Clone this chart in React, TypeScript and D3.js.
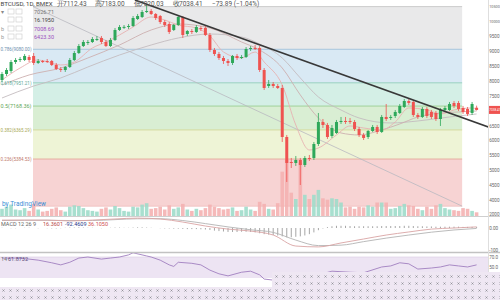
import React from 'react';
import * as d3 from 'd3';

// ---------- DATA ----------
const open = [8046,8248,8350,8652,8720,8720,8821,8855,8619,8686, 8686,8686,8552,8417,8383,8484,8720,8955,9191,9292, 9326,9393,9461,9326,9191,9393,9730,9831,9831,9865, 10100,10168,10336,10370,10269,10201,9999,9932,9730,9898, 10168,9595,9696,9663,9797,9797,9562,9057,8922,8787, 8686,8619,8855,8787,8821,9090,9124,9124,8383,7844, 7912,7844,7777,6127,5285,5252,5353,5184,5420,5420, 5891,6632,6531,6161,6262,6632,6666,6666,6632,6397, 6195,6127,6329,6464,6296,6801,6767,6834,6935,7137, 7339,7306,6868,6801,7070,6969,6935,6733,7036,7036, 7272,7272,7104,7070,6935,7112.43];
const close = [8248,8383,8652,8720,8753,8855,8720,8619,8686,8652, 8680,8552,8417,8383,8484,8720,8955,9191,9326,9326, 9427,9427,9326,9191,9393,9730,9831,9835,9865,10134, 10201,10336,10370,10269,10134,9999,9898,9663,9898,10168, 9562,9696,9663,9831,9764,9562,9057,8922,8787,8686, 8619,8855,8787,8821,9090,9124,9120,8383,7777,7912, 7844,7777,6127,5252,5270,5353,5184,5420,5386,5891, 6632,6531,6127,6430,6632,6666,6660,6632,6397,6195, 6094,6329,6464,6296,6801,6733,6801,6969,7171,7339, 7272,6868,6801,7070,6834,6801,6733,7036,7104,7238, 7171,7070,6969,6902,7238,7038.41];
const high = [8316,8450,8720,8787,8821,8922,8888,8955,8753,8720, 8753,8720,8619,8484,8518,8787,9023,9258,9393,9393, 9494,9528,9528,9393,9461,9797,9898,9898,9932,10201, 10269,10403,10572,10437,10302,10235,10067,9999,9932,10235, 10201,9730,9764,9898,9865,9865,9629,9124,8989,8855, 8753,8888,8922,8888,9157,9191,9225,9191,8450,8046, 7979,7912,7878,6195,5420,5487,5420,5487,5521,5959, 6935,6733,6599,6531,6700,6801,6801,6767,6700,6464, 6262,6363,6531,6531,6868,7238,6868,7036,7238,7407, 7407,7373,6935,7137,7137,7036,7003,7104,7171,7306, 7339,7339,7171,7137,7306,7183];
const low = [7979,8181,8282,8585,8652,8686,8652,8552,8585,8619, 8619,8518,8383,8316,8316,8450,8686,8922,9157,9225, 9292,9360,9258,9157,9157,9360,9696,9764,9764,9831, 10067,10134,10302,10235,10067,9932,9831,9595,9696,9865, 9461,9528,9595,9629,9696,9528,8989,8855,8720,8585, 8518,8552,8720,8753,8787,9023,9057,8316,7710,7777, 7777,7743,5959,4612,5083,5151,4510,5117,5319,5353, 5824,6430,6060,6094,6228,6565,6565,6565,6329,6127, 6026,6060,6296,6228,6262,6666,6700,6767,6902,7104, 7205,6801,6733,6767,6767,6733,6666,6498,6969,7003, 7104,7003,6902,6834,6868,7020.03];
const volume = [2600,2900,3200,2500,2400,2700,2300,3300,2500,2200, 2300,2600,2800,2400,2200,2900,3100,3000,2700,2400, 2300,2200,2600,2800,2500,3000,2700,2300,2200,2900, 2800,3200,3400,2600,2700,2900,2500,3100,2600,2800, 3300,2500,2300,2600,2400,2700,3200,2900,2700,2500, 2600,2800,2300,2400,2900,2500,2300,3600,3300,2600, 2500,3400,7900,9600,4900,4000,9200,4600,4000,4600, 5300,4100,3900,4100,4000,3500,2800,2900,2600,2900, 2800,3100,2900,3500,3500,3500,2600,2700,3000,3300, 3100,3000,2600,2400,2900,2600,3100,3300,2700,2500, 2400,2300,2700,2600,2300,2100];

// moving averages (sampled: candle index, price)
const maShortIdx = [0,4,8,13,16,20,23,26,29,33,36,39,43,46,49,53,56,58,62,65,68,70,74,77,80,84,87,90,94,97,100,104,105];
const maShortVal = [8046,8450,8720,8552,8652,9124,9326,9562,9831,10168,10067,9898,9797,9528,8989,8787,8989,8652,7878,6531,5690,5757,6195,6498,6430,6363,6632,7104,7036,6902,7036,7104,7070];
const maMidIdx = [0,6,13,19,26,33,39,46,53,57,62,66,70,75,79,84,88,92,97,101,105];
const maMidVal = [7878,8215,8450,8787,9225,9730,9932,9797,9326,9057,8450,7541,6767,6262,6195,6363,6565,6801,6935,6969,7003];
const maLongIdx = [0,7,13,19,26,33,39,46,53,57,62,66,70,75,79,86,92,99,105];
const maLongVal = [7440,7844,8114,8484,8888,9225,9461,9595,9494,9258,8787,8114,7474,7036,6767,6599,6666,6801,6902];

// Fibonacci retracement
const fibRatios = [1, 0.786, 0.618, 0.5, 0.382, 0.236, 0];
const fibPrices = [10518, 9080.00, 7951.21, 7168.36, 6365.29, 5384.53, 3798];
const fibStartIdx = 6.86;
const fibEndIdx = 101.8;

// trend line (candle index, price)
const trendA = { i: 29.4, p: 10740 };
const trendB = { i: 107.6, p: 6464 };

// axis ticks
const priceTicks = [10500,10000,9500,9000,8500,8000,7500,7000,6500,6000,5500,5000,4500];
const volTicks = [4000, 2000];

// MACD (sampled every 5 candles)
const macdIdx = [0,5,10,15,20,25,30,35,40,45,50,55,60,65,70,75,80,85,90,95,100,105];
const macdVal = [36,36,36,32,36,41,45,41,27,9,-5,-14,-32,-82,-86,-68,-50,-32,-18,-5,0,5];
const signalVal = [34,35,35,34,34,38,42,42,34,20,5,-8,-20,-55,-80,-78,-62,-46,-32,-19,-9,-2];
const histVal = [1,0,-1,-1,0,1,1,0,-1,0, -1,-2,-2,-1,1,2,2,3,2,1, 1,0,-1,0,1,2,2,1,1,2, 3,3,2,1,0,-1,-2,-2,-3,-3, -4,-5,-5,-5,-6,-7,-9,-12,-14,-16, -18,-18,-18,-17,-17,-18,-20,-24,-28,-30, -32,-34,-38,-42,-42,-40,-38,-34,-28,-20, -10,-2,4,8,10,10,10,9,8,8, 8,8,8,8,9,9,9,9,9,10, 10,9,8,8,7,7,6,6,6,6, 6,6,5,5,5,5];
const macdTicks = [0, -100];

// RSI (sampled)
const rsiIdx = [0,3,6,8,11,13,15,17,19,22,24,26,28,29,32,33,35,37,38,39,42,44,46,48,50,53,55,57,58,60,62,66,70,73,77,80,84,86,88,90,92,95,97,99,101,103,105];
const rsiVal = [68,68,66,64,59,55,60,68,70,66,68,70,74,78,72,70,64,55,52,60,58,55,45,38,34,41,43,36,28,26,17,15,36,43,41,40,51,53,59,57,47,49,51,55,53,51,55];
const rsiTicks = [70, 50];

// ---------- LAYOUT ----------
const W = 500, H = 300;
const axisX = 488;
const MAIN_BOTTOM = 216;
const MACD_BOTTOM = 252;

const x = d3.scaleLinear().domain([0, 105]).range([2, 476.6]);
const y = d3.scaleLinear().domain([10740, 3500]).range([0, 215]);
const yVol = d3.scaleLinear().domain([0, 10000]).range([227, 157]);
const yMacd = d3.scaleLinear().domain([0, -100]).range([228, 250]);
const yRsi = d3.scaleLinear().domain([70, 30]).range([257, 278]);

const UP = '#2ea85a', DOWN = '#ef5350';
const bandFill = ['#e9e9ea', '#d9e9f4', '#d4efe6', '#d9eed3', '#eef4d6', '#f7d3d3'];
const lineCol = ['#cdcdcd', '#a6c5dc', '#98d0c0', '#9fd198', '#d2da9e', '#e6ae9f', '#f0c4c4'];
const labelCol = ['#888', '#6d8fae', '#5aa795', '#5fa85a', '#a7a957', '#c07a6d', '#c88'];
const font = 'Roboto, "Liberation Sans", sans-serif';
const AX_X = axisX + 1.2;

export default function App() {
  const idx = d3.range(open.length);
  const line = d3.line<[number, number]>().x(d => d[0]).y(d => d[1]);
  const smooth = d3.line<[number, number]>().x(d => d[0]).y(d => d[1]).curve(d3.curveMonotoneX);

  const maPath = (iArr: number[], vArr: number[]) =>
    smooth(iArr.map((ii, k) => [x(ii), y(vArr[k])] as [number, number])) || '';

  const fx0 = x(fibStartIdx), fx1 = x(fibEndIdx);
  const last = close.length - 1;
  const lastY = y(close[last]);

  // right-axis label: font size chosen so the label fits the narrow axis strip
  const axText = (key: string, yy: number, label: string, fill = '#666') => {
    const fs = label.length <= 4 ? 4.6 : label.length === 5 ? 3.8 : 3.1;
    return (
      <text key={key} x={AX_X} y={yy} dy="0.35em" fontSize={fs} fill={fill}>{label}</text>
    );
  };

  return (
    <svg width={W} height={H} style={{ position: 'absolute', left: 0, top: 0, background: '#fff', fontFamily: font }}>
      <defs>
        <clipPath id="cMain"><rect x={0} y={0} width={axisX} height={MAIN_BOTTOM} /></clipPath>
        <clipPath id="cMacd"><rect x={0} y={MAIN_BOTTOM + 1} width={axisX} height={MACD_BOTTOM - MAIN_BOTTOM - 1} /></clipPath>
        <clipPath id="cRsi"><rect x={0} y={MACD_BOTTOM + 1} width={axisX} height={H - MACD_BOTTOM} /></clipPath>
        <pattern id="dots" width={7} height={7} patternUnits="userSpaceOnUse">
          <rect width={7} height={7} fill="#efe7f3" />
          <path d="M2.5,2.5 L4.5,4.5 M4.5,2.5 L2.5,4.5" stroke="#8d8d93" strokeWidth={0.8} />
        </pattern>
      </defs>

      {/* ---------- MAIN PANE ---------- */}
      <g clipPath="url(#cMain)">
        {bandFill.map((c, k) => (
          <rect key={'b' + k} x={fx0} width={fx1 - fx0} y={y(fibPrices[k])}
            height={y(fibPrices[k + 1]) - y(fibPrices[k])} fill={c} />
        ))}
        {fibPrices.map((p, k) => (
          <line key={'fl' + k} x1={fx0} x2={fx1} y1={y(p)} y2={y(p)} stroke={lineCol[k]} strokeWidth={1} />
        ))}
        <line x1={fx0} y1={y(fibPrices[0])} x2={fx1} y2={y(fibPrices[6])} stroke="#b9b9c0" strokeWidth={0.8} />

        {idx.map(i => {
          const top = yVol(volume[i]);
          return (
            <rect key={'v' + i} x={x(i) - 1.8} width={3.6} y={top} height={Math.max(0, MAIN_BOTTOM - top)}
              fill={close[i] >= open[i] ? '#9fdcca' : '#f4b1b1'} opacity={0.9} />
          );
        })}

        <path d={maPath(maLongIdx, maLongVal)} fill="none" stroke="#c4bcc0" strokeWidth={0.9} />
        <path d={maPath(maMidIdx, maMidVal)} fill="none" stroke="#cdb0b0" strokeWidth={0.9} />
        <path d={maPath(maShortIdx, maShortVal)} fill="none" stroke="#e7b1b1" strokeWidth={0.9} />

        {idx.map(i => {
          const up = close[i] >= open[i];
          const col = up ? UP : DOWN;
          const yt = y(Math.max(open[i], close[i]));
          const yb = y(Math.min(open[i], close[i]));
          return (
            <g key={'c' + i}>
              <line x1={x(i)} x2={x(i)} y1={y(high[i])} y2={y(low[i])} stroke={col} strokeWidth={0.8} />
              <rect x={x(i) - 1.5} width={3} y={yt} height={Math.max(1, yb - yt)} fill={col} />
            </g>
          );
        })}

        <line x1={x(trendA.i)} y1={y(trendA.p)} x2={x(trendB.i)} y2={y(trendB.p)} stroke="#383838" strokeWidth={1.6} />

        <text x={2} y={206} fontSize={6.5} fill="#3c8fd6">by TradingView</text>
      </g>

      {/* fib labels (squeezed into the left margin) */}
      {fibPrices.slice(1, 6).map((p, k) => (
        <text key={'ft' + k} x={0.5} y={y(p)} dy="0.35em" fontSize={5.2} fill={labelCol[k + 1]}
          textLength={fx0 - 2} lengthAdjust="spacingAndGlyphs">
          {`${fibRatios[k + 1]}(${p.toFixed(2)})`}
        </text>
      ))}

      {/* legends top-left */}
      <g fontSize={6.5}>
        <text x={0.5} y={6} fill="#444" fontSize={5.5} textLength={52} lengthAdjust="spacingAndGlyphs">BTCUSD, 1D, BMEX</text>
        <text x={57} y={6} fill="#555">开</text><text x={63} y={6} fill="#555">7112.43</text>
        <text x={95} y={6} fill="#555">高</text><text x={101} y={6} fill="#555">7183.00</text>
        <text x={134} y={6} fill="#555">低</text><text x={140} y={6} fill="#555">7020.03</text>
        <text x={173} y={6} fill="#555">收</text><text x={179} y={6} fill="#555">7038.41</text>
        <text x={212} y={6} fill="#555">−73.89 (−1.04%)</text>
      </g>
      <g fontSize={5.5}>
        {[14, 22, 31, 39].map((yy, k) => (
          <g key={'lg' + k}>
            <rect x={8} y={yy - 5} width={6} height={5} fill="none" stroke="#c9c9c9" strokeWidth={0.6} />
            <rect x={16} y={yy - 5} width={6} height={5} fill="none" stroke="#c9c9c9" strokeWidth={0.6} />
          </g>
        ))}
        <text x={1} y={14} fill="#888">▾</text>
        <text x={34} y={14} fill="#777">7026.71</text>
        <text x={34} y={22} fill="#444">16.1950</text>
        <text x={1} y={31} fill="#999">b</text>
        <text x={34} y={31} fill="#9b4fc0">7008.69</text>
        <text x={1} y={39} fill="#999">b</text>
        <text x={34} y={39} fill="#9b4fc0">6423.30</text>
      </g>

      {/* ---------- MACD PANE ---------- */}
      <g clipPath="url(#cMacd)">
        {idx.map(i => (
          <line key={'h' + i} x1={x(i)} x2={x(i)} y1={yMacd(0)} y2={yMacd(histVal[i])} stroke="#8f8f8f" strokeWidth={0.8} />
        ))}
        <path d={smooth(macdIdx.map((ii, k) => [x(ii), yMacd(signalVal[k])] as [number, number])) || ''} fill="none" stroke="#b3b3b3" strokeWidth={0.9} />
        <path d={smooth(macdIdx.map((ii, k) => [x(ii), yMacd(macdVal[k])] as [number, number])) || ''} fill="none" stroke="#d9a4a4" strokeWidth={0.9} />
      </g>
      <g fontSize={5.5}>
        <text x={1} y={226} fill="#666">MACD 12 26 9</text>
        <text x={43} y={226} fill="#b84a4a">16.3601</text>
        <text x={65} y={226} fill="#2b3a8a">-92.4609</text>
        <text x={88} y={226} fill="#d05050">36.1050</text>
      </g>

      {/* ---------- RSI PANE ---------- */}
      <g clipPath="url(#cRsi)">
        <rect x={0} y={yRsi(70)} width={axisX} height={yRsi(30) - yRsi(70)} fill="#ede4f3" />
        <line x1={0} x2={axisX} y1={yRsi(70)} y2={yRsi(70)} stroke="#d8cbe2" strokeWidth={0.6} />
        <path d={line(rsiIdx.map((ii, k) => [x(ii), yRsi(rsiVal[k])] as [number, number])) || ''} fill="none" stroke="#a07fc0" strokeWidth={0.9} />
      </g>
      <g fontSize={5.5}>
        <text x={1} y={261} fill="#777">14</text>
        <text x={8} y={261} fill="#5a4a7a">61.8732</text>
      </g>

      {/* pane separators & axis */}
      <line x1={0} x2={W} y1={MAIN_BOTTOM + 0.5} y2={MAIN_BOTTOM + 0.5} stroke="#cfcfcf" strokeWidth={1.2} />
      <line x1={0} x2={W} y1={MACD_BOTTOM + 0.5} y2={MACD_BOTTOM + 0.5} stroke="#c2c2c2" strokeWidth={1.6} />
      <line x1={axisX + 0.5} x2={axisX + 0.5} y1={0} y2={H} stroke="#dedede" strokeWidth={1} />

      {priceTicks.filter(p => Math.abs(y(p) - lastY) > 7).map(p => axText('pt' + p, y(p), String(p)))}
      {volTicks.map(v => axText('vt' + v, yVol(v) + 1, String(v)))}
      {macdTicks.map(v => axText('mt' + v, yMacd(v), v === 0 ? '0.00' : '-100'))}
      {rsiTicks.map(v => axText('rt' + v, yRsi(v), v.toFixed(1)))}
      <rect x={axisX + 1} y={lastY - 4} width={W - axisX} height={8} fill="#ef5350" />
      {axText('last', lastY, close[last].toFixed(2), '#fff')}

      {/* dotted overlay at bottom */}
      <path d={`M272,272 H${W} V${H} H0 V287 H272 Z`} fill="url(#dots)" />
    </svg>
  );
}
